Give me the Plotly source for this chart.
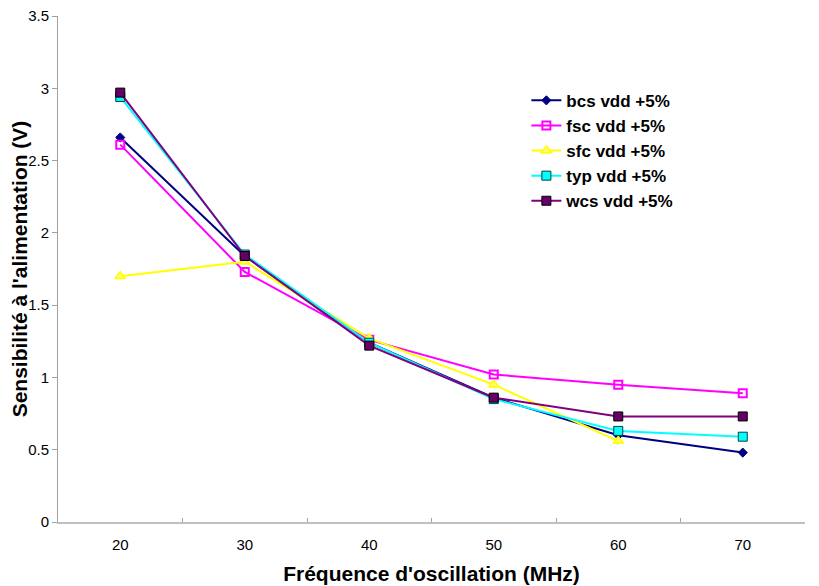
import plotly.graph_objects as go

freqs = ["20", "30", "40", "50", "60", "70"]
bcs = [2.66, 1.84, 1.24, 0.86, 0.60, 0.48]
fsc = [2.61, 1.73, 1.26, 1.02, 0.95, 0.89]
sfc = [1.70, 1.80, 1.27, 0.95, 0.56, None]
typ = [2.94, 1.85, 1.24, 0.85, 0.63, 0.59]
wcs = [2.97, 1.84, 1.22, 0.86, 0.73, 0.73]

series = [
    ("bcs vdd +5%", bcs, "#000080", dict(symbol="diamond", size=7, color="#000080", line=dict(color="#000080", width=1))),
    ("fsc vdd +5%", fsc, "#FF00FF", dict(symbol="square-open", size=8, color="#FF00FF", line=dict(color="#FF00FF", width=2))),
    ("sfc vdd +5%", sfc, "#FFFF00", dict(symbol="triangle-up", size=9, color="#FFFF66", line=dict(color="#FFFF00", width=1.5))),
    ("typ vdd +5%", typ, "#00FFFF", dict(symbol="square", size=9, color="#00FFFF", line=dict(color="#004040", width=1))),
    ("wcs vdd +5%", wcs, "#800080", dict(symbol="square", size=9, color="#660066", line=dict(color="#000000", width=1))),
]

fig = go.Figure()
for name, vals, col, mk in series:
    fig.add_trace(go.Scatter(x=freqs, y=vals, name=name, mode="lines+markers",
                             line=dict(color=col, width=2), marker=mk, connectgaps=False))

fig.update_layout(
    width=811, height=578,
    margin=dict(l=50, r=14, t=8, b=64, autoexpand=False),
    paper_bgcolor="white", plot_bgcolor="white",
    font=dict(family="Arial, Liberation Sans, sans-serif", color="black", size=15),
    legend=dict(x=0.627, y=0.868, xanchor="left", yanchor="top",
                font=dict(size=17, family="Arial, Liberation Sans, sans-serif", weight="bold"),
                bgcolor="rgba(0,0,0,0)", tracegroupgap=0, itemwidth=30),
    showlegend=True,
)
fig.update_xaxes(type="category", range=[-0.5, 5.5], showline=True, linecolor="#c0c0c0", linewidth=2,
                 ticks="inside", tickson="boundaries", ticklen=4, tickcolor="#a0a0a0",
                 showgrid=False, zeroline=False, automargin=False, ticklabelstandoff=8,
                 title=dict(text="Fréquence d'oscillation (MHz)", font=dict(size=21, weight="bold"), standoff=14))
fig.update_yaxes(range=[0, 3.5], dtick=0.5, showline=True, linecolor="#a0a0a0", linewidth=1,
                 ticks="outside", ticklen=5, tickcolor="#a0a0a0", showgrid=False, zeroline=False,
                 tickformat="~g", automargin=False, ticklabeloverflow="allow",
                 title=dict(text="Sensibilité à l'alimentation (V)", font=dict(size=21, weight="bold"), standoff=6))

fig.write_html("out.html")
